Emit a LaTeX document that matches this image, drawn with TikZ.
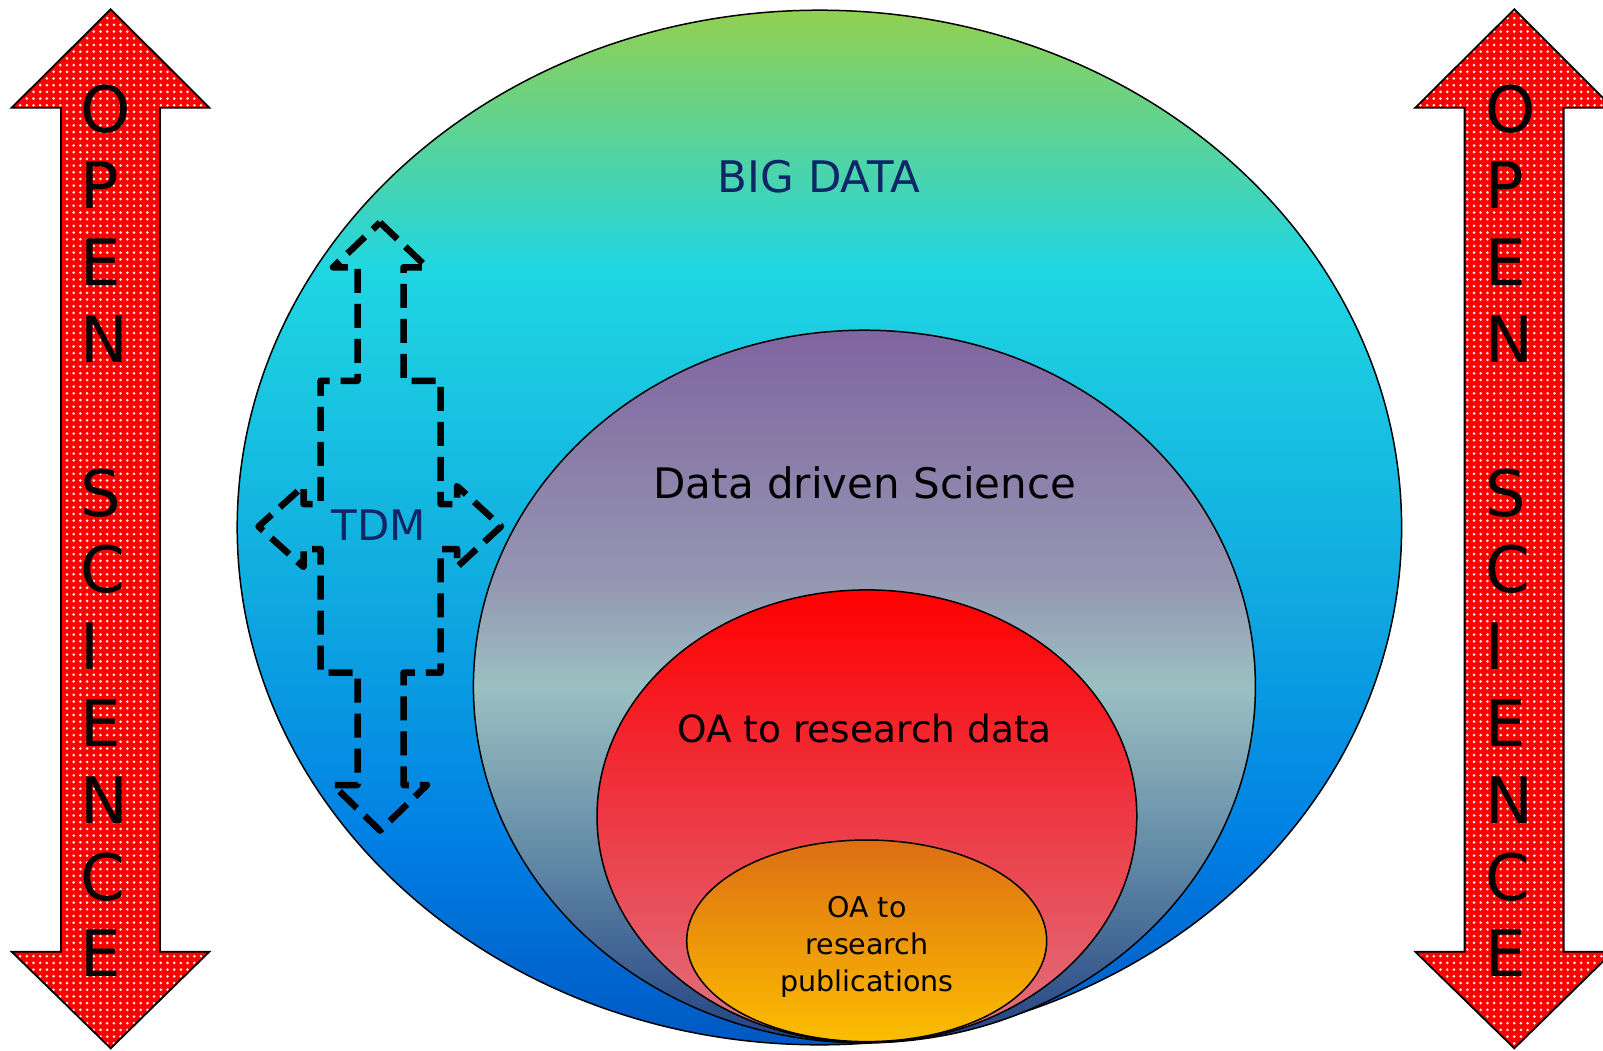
\documentclass[tikz,border=0pt]{standalone}
\usepackage{fontspec}
\setmainfont{DejaVu Sans}
\usetikzlibrary{patterns.meta}
\definecolor{bdA}{RGB}{146,208,80}
\definecolor{bdB}{RGB}{32,214,226}
\definecolor{bdC}{RGB}{16,172,224}
\definecolor{bdD}{RGB}{0,128,228}
\definecolor{bdE}{RGB}{0,88,196}
\definecolor{dsA}{RGB}{128,100,160}
\definecolor{dsB}{RGB}{148,150,178}
\definecolor{dsC}{RGB}{155,192,194}
\definecolor{dsD}{RGB}{95,135,165}
\definecolor{dsE}{RGB}{35,65,130}
\definecolor{rdA}{RGB}{255,0,0}
\definecolor{rdB}{RGB}{240,45,55}
\definecolor{rdC}{RGB}{224,116,128}
\definecolor{orA}{RGB}{220,110,20}
\definecolor{orB}{RGB}{252,190,0}
\definecolor{navytext}{RGB}{16,38,102}
\definecolor{dotcol}{RGB}{255,225,225}
\pgfdeclareverticalshading{bigshade}{100bp}{color(0bp)=(bdE); color(25bp)=(bdE); color(35bp)=(bdD); color(47.5bp)=(bdC); color(62.5bp)=(bdB); color(75bp)=(bdA); color(100bp)=(bdA)}
\pgfdeclareverticalshading{datashade}{100bp}{color(0bp)=(dsE); color(25bp)=(dsE); color(37.5bp)=(dsD); color(50bp)=(dsC); color(57.5bp)=(dsB); color(75bp)=(dsA); color(100bp)=(dsA)}
\pgfdeclareverticalshading{redshade}{100bp}{color(0bp)=(rdC); color(25bp)=(rdC); color(55bp)=(rdB); color(75bp)=(rdA); color(100bp)=(rdA)}
\pgfdeclareverticalshading{orshade}{100bp}{color(0bp)=(orB); color(25bp)=(orB); color(75bp)=(orA); color(100bp)=(orA)}
\tikzset{
  bubble/.style={draw=black, line width=1.5pt},
  bigarrow/.style={preaction={fill=red}, pattern={Dots[radius=1.5pt,distance=6.7pt]}, pattern color=dotcol, draw=black, line width=1.8pt, line join=miter},
  openletter/.style={anchor=base west, inner sep=0pt, font=\fontsize{64}{64}\selectfont, text=black},
  bigtext/.style={anchor=base, inner sep=0pt, font=\fontsize{42}{50}\selectfont},
  tdmshape/.style={draw=black, line width=6.5pt, dash pattern=on 24pt off 11pt, line join=round},
}
\begin{document}
\begin{tikzpicture}[x=1pt,y=-1pt]
\useasboundingbox (0,0) rectangle (1603,1050);
\clip (0,0) rectangle (1603,1050);

% nested ellipses
\shadedraw[bubble, shading=bigshade] (819.4,527.5) ellipse [x radius=582.2pt, y radius=517.3pt];
\shadedraw[bubble, shading=datashade] (864.4,686.5) ellipse [x radius=391pt, y radius=356.3pt];
\shadedraw[bubble, shading=redshade] (866.9,816.3) ellipse [x radius=269.9pt, y radius=226.4pt];
\shadedraw[bubble, shading=orshade] (866.7,940.8) ellipse [x radius=180pt, y radius=100.8pt];

% TDM dashed four-way arrow
\draw[tdmshape] (380,222.5) -- (427,267.3) -- (403.5,267.3) -- (403.5,380.8) -- (440.5,380.8)
  -- (440.5,504) -- (457,504) -- (457,486) -- (501,526.5) -- (457,567) -- (457,549) -- (440.5,549)
  -- (440.5,672.7) -- (403.5,672.7) -- (403.5,785) -- (427,785) -- (380,830.6) -- (333,785)
  -- (357.5,785) -- (357.5,672.7) -- (320.5,672.7) -- (320.5,549) -- (303.5,549) -- (303.5,567)
  -- (258.5,526.5) -- (303.5,486) -- (303.5,504) -- (320.5,504) -- (320.5,380.8) -- (357.5,380.8)
  -- (357.5,267.3) -- (333,267.3) -- cycle;

% texts
\node[bigtext, text=navytext, font=\fontsize{43.5}{50}\selectfont] (bigdata) at (819,192.7) {BIG DATA};
\node[bigtext, text=navytext, font=\fontsize{42}{50}\selectfont] (tdm) at (379,540.8) {TDM};
\node[bigtext, text=black] (dds) at (865,498.3) {Data driven Science};
\node[bigtext, text=black, font=\fontsize{37.5}{44}\selectfont] (oadata) at (864.5,742.5) {OA to research data};
\node[bigtext, text=black, font=\fontsize{28.5}{34}\selectfont] (pubA) at (867,917) {OA to};
\node[bigtext, text=black, font=\fontsize{28.5}{34}\selectfont] (pubB) at (867,954.5) {research};
\node[bigtext, text=black, font=\fontsize{28.5}{34}\selectfont] (pubC) at (867,991) {publications};

% OPEN SCIENCE double arrows
\path[bigarrow] (110.7,9.3) -- (209.3,107.7) -- (160,107.7) -- (160,951.7) -- (209.3,951.7)
  -- (110.7,1048.3) -- (11.7,951.7) -- (61,951.7) -- (61,107.7) -- (11.7,107.7) -- cycle;
\path[bigarrow] (1514.3,9.3) -- (1612.9,107.7) -- (1563.6,107.7) -- (1563.6,951.7) -- (1612.9,951.7)
  -- (1514.3,1048.3) -- (1415.3,951.7) -- (1464.6,951.7) -- (1464.6,107.7) -- (1415.3,107.7) -- cycle;

\foreach \l/\k in {O/0,P/1,E/2,N/3,S/5,C/6,I/7,E/8,N/9,C/10,E/11}{
  \node[openletter] (L\k) at (80.5,{132+76.8*\k}) {\l};
  \node[openletter] (R\k) at (1485,{132+76.8*\k}) {\l};
}
\end{tikzpicture}
\end{document}
